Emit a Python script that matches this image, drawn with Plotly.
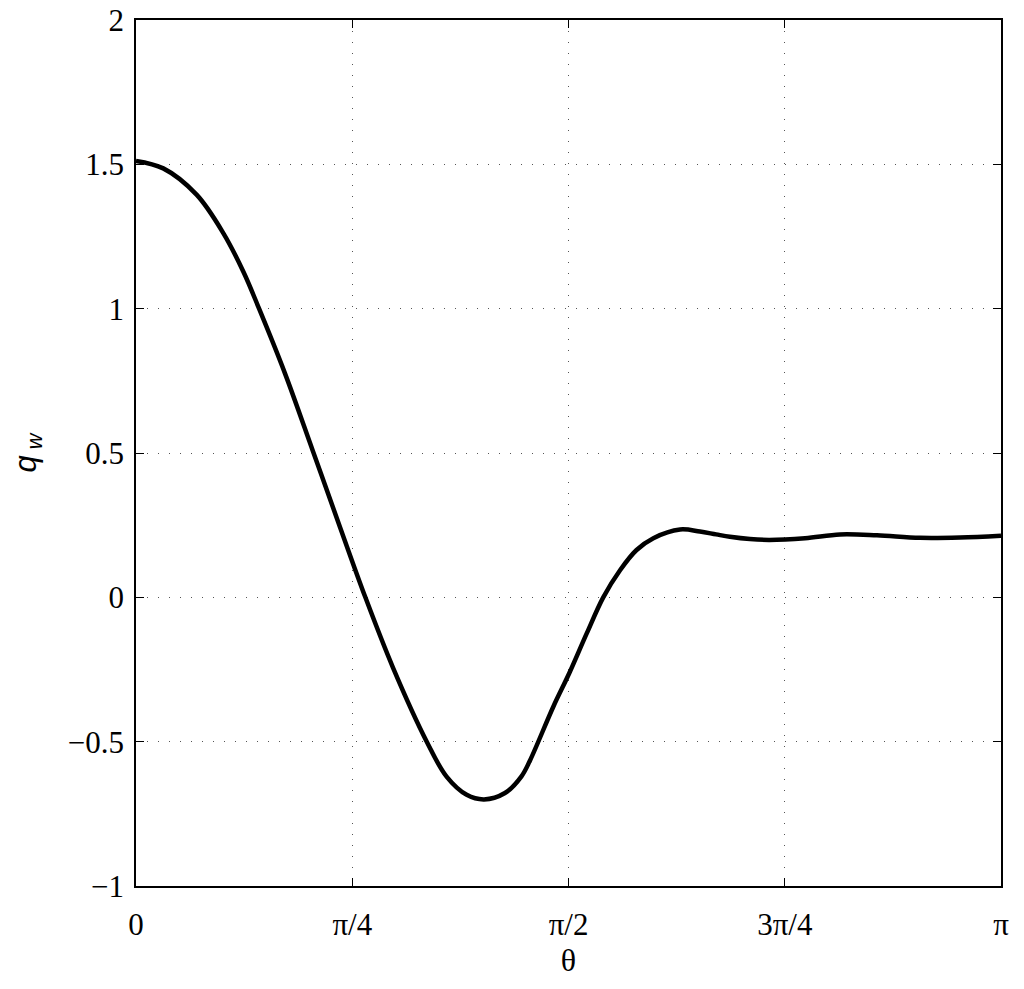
import math
import plotly.graph_objects as go

# theta (rad) and q_w values
theta = [0.0, 0.099, 0.220, 0.317, 0.390, 0.447, 0.541, 0.642, 0.741, 0.833,
         0.934, 1.056, 1.128, 1.201, 1.264, 1.340, 1.400, 1.431, 1.516, 1.573,
         1.637, 1.697, 1.758, 1.818, 1.879, 1.976, 2.048, 2.107, 2.157, 2.230,
         2.300, 2.430, 2.557, 2.691, 2.847, 2.993, math.pi]
q_w = [1.512, 1.486, 1.395, 1.262, 1.128, 1.0, 0.776, 0.508, 0.243, 0.0,
       -0.245, -0.5, -0.621, -0.684, -0.70, -0.678, -0.62, -0.565, -0.378, -0.264,
       -0.125, 0.0, 0.094, 0.164, 0.205, 0.235, 0.228, 0.218, 0.210, 0.202,
       0.199, 0.205, 0.218, 0.215, 0.206, 0.207, 0.213]

x_tickvals = [0, math.pi / 4, math.pi / 2, 3 * math.pi / 4, math.pi]
x_ticktext = ["0", "π/4", "π/2", "3π/4", "π"]
y_tickvals = [-1, -0.5, 0, 0.5, 1, 1.5, 2]
y_ticktext = ["\u22121", "\u22120.5", "0", "0.5", "1", "1.5", "2"]

serif = "Liberation Serif"

fig = go.Figure()
fig.add_trace(go.Scatter(x=theta, y=q_w, mode="lines",
                         line=dict(color="black", width=4.5, shape="spline", smoothing=1.0),
                         showlegend=False))

axis_common = dict(
    showline=True, linecolor="black", linewidth=1.5, mirror="ticks",
    ticks="inside", ticklen=8, tickcolor="black", tickwidth=1,
    showgrid=True, gridcolor="#555555", griddash="1px,10px", gridwidth=1.2,
    zeroline=False, automargin=False, ticklabeloverflow="allow",
    tickfont=dict(family=serif, size=31, color="black"),
)

fig.update_xaxes(range=[0, math.pi], tickvals=x_tickvals, ticktext=x_ticktext,
                 ticklabelstandoff=10,
                 title=dict(text="θ", font=dict(family=serif, size=32, color="black"), standoff=4),
                 **axis_common)
fig.update_yaxes(range=[-1, 2], tickvals=y_tickvals, ticktext=y_ticktext,
                 ticklabelstandoff=4,
                 title=dict(text="<i>q</i><sub> <i>w</i></sub>",
                            font=dict(family="Liberation Sans", size=31, color="black"), standoff=22),
                 **axis_common)

fig.update_layout(
    width=1024, height=989,
    margin=dict(l=136, r=23, t=20, b=103),
    paper_bgcolor="white", plot_bgcolor="white",
)

# drop the default page margin so the figure sits at the top-left corner
fig.write_html("out.html", config={"displayModeBar": False},
               post_script="document.body.style.margin = '0';")
